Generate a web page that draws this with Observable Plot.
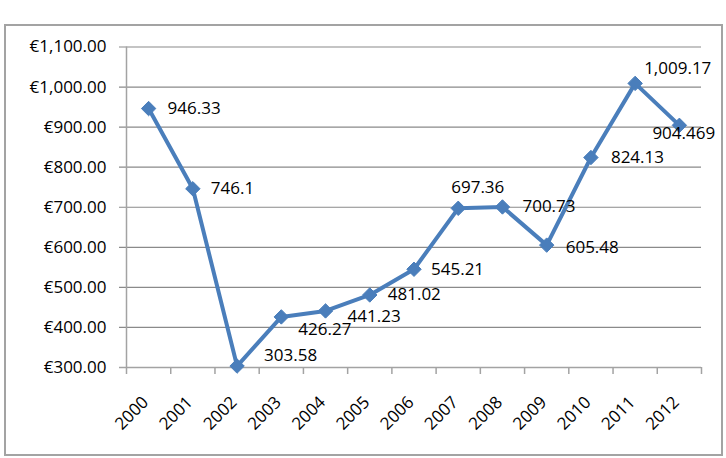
<!DOCTYPE html>
<html>
<head>
<meta charset="utf-8">
<script src="https://cdn.jsdelivr.net/npm/d3@7"></script>
<script src="https://cdn.jsdelivr.net/npm/@observablehq/plot@0.6"></script>
<style>
  html, body { margin: 0; padding: 0; background: #fff; }
  #wrap { position: relative; width: 726px; height: 458px; }
  #border { position: absolute; left: 4px; top: 24px; width: 719px; height: 432px; box-sizing: border-box; border: 2px solid #a3a3a3; pointer-events: none; }
  svg { font-family: "Open Sans", sans-serif; }
</style>
</head>
<body>
<div id="wrap"><div id="border"></div></div>
<script>
const years = [2000, 2001, 2002, 2003, 2004, 2005, 2006, 2007, 2008, 2009, 2010, 2011, 2012];
const values = [946.33, 746.1, 303.58, 426.27, 441.23, 481.02, 545.21, 697.36, 700.73, 605.48, 824.13, 1009.17, 904.469];
const valueLabels = ["946.33", "746.1", "303.58", "426.27", "441.23", "481.02", "545.21", "697.36", "700.73", "605.48", "824.13", "1,009.17", "904.469"];
const yTicks = [300, 400, 500, 600, 700, 800, 900, 1000, 1100];

// label nudges (dx, dy) in pixels, as placed in the original chart
const labelNudge = [[19,0],[18,0],[27,-11],[17,13],[22,6],[18,0],[17,0],[-7,-21],[20,0],[19,2],[20,0],[9,-15],[-27,8]];

const data = years.map((year, i) => ({year, value: values[i], label: valueLabels[i], dx: labelNudge[i][0], dy: labelNudge[i][1]}));
const bounds = d3.range(years.length + 1).map(i => years[0] - 0.5 + i);
const fmtEuro = d => "€" + d3.format(",.2f")(d);

const chart = Plot.plot({
  width: 726,
  height: 458,
  marginLeft: 126,
  marginRight: 25,
  marginTop: 46.5,
  marginBottom: 91,
  style: {fontFamily: "'Open Sans', sans-serif", fontSize: "17px", color: "#000", background: "transparent"},
  x: {type: "linear", domain: [years[0] - 0.5, years[years.length - 1] + 0.5], axis: null},
  y: {domain: [300, 1100], axis: null},
  marks: [
    Plot.ruleY(yTicks.filter(d => d > 300), {stroke: "#8a8a8a", strokeWidth: 1.2, strokeOpacity: 1, insetLeft: -7}),
    Plot.ruleX([bounds[0]], {stroke: "#a3a3a3", strokeWidth: 1.5, strokeOpacity: 1}),
    Plot.ruleY([300], {stroke: "#a3a3a3", strokeWidth: 1.5, strokeOpacity: 1, insetLeft: -7}),
    Plot.ruleX(bounds, {x: d => d, y1: 300, y2: 300, insetBottom: -7, stroke: "#a3a3a3", strokeWidth: 1.5, strokeOpacity: 1}),
    Plot.text(yTicks, {x: bounds[0], y: d => d, text: fmtEuro, textAnchor: "end", dx: -20, fontSize: 17, fill: "#000"}),
    Plot.text(years, {x: d => d, y: 300, text: d => String(d), rotate: -45, textAnchor: "end", dx: -3, dy: 32, fontSize: 17, fill: "#000"}),
    Plot.line(data, {x: "year", y: "value", stroke: "#4a7ebb", strokeWidth: 4, strokeLinejoin: "round"}),
    Plot.dot(data, {x: "year", y: "value", symbol: "diamond2", r: 6.5, fill: "#4a7ebb", stroke: "#4a7ebb", strokeWidth: 1}),
    ...data.map(d => Plot.text([d], {x: "year", y: "value", text: "label", textAnchor: "start", dx: d.dx, dy: d.dy, fontSize: 17, fill: "#000"}))
  ]
});
document.getElementById("wrap").prepend(chart);
</script>
</body>
</html>
